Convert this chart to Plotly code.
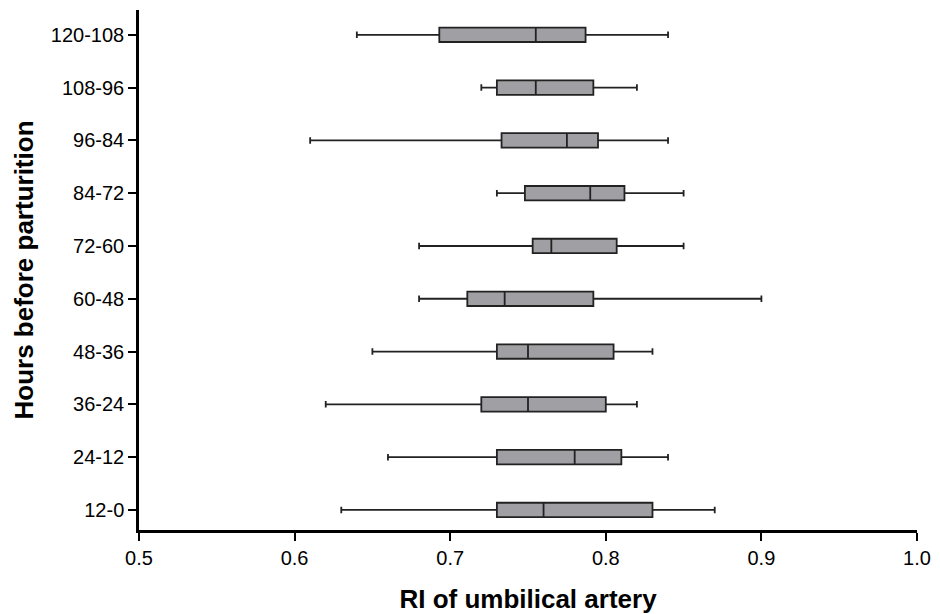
import plotly.graph_objects as go

categories = ["12-0", "24-12", "36-24", "48-36", "60-48", "72-60", "84-72", "96-84", "108-96", "120-108"]
lower_whisker = [0.630, 0.660, 0.620, 0.650, 0.680, 0.680, 0.730, 0.610, 0.720, 0.640]
q1_values = [0.730, 0.730, 0.720, 0.730, 0.711, 0.753, 0.748, 0.733, 0.730, 0.693]
median_values = [0.760, 0.780, 0.750, 0.750, 0.735, 0.765, 0.790, 0.775, 0.755, 0.755]
q3_values = [0.830, 0.810, 0.800, 0.805, 0.792, 0.807, 0.812, 0.795, 0.792, 0.787]
upper_whisker = [0.870, 0.840, 0.820, 0.830, 0.900, 0.850, 0.850, 0.840, 0.820, 0.840]
x_ticks = [0.5, 0.6, 0.7, 0.8, 0.9, 1.0]

fig = go.Figure()
fig.add_trace(go.Box(
    y=categories,
    q1=q1_values,
    median=median_values,
    q3=q3_values,
    lowerfence=lower_whisker,
    upperfence=upper_whisker,
    orientation="h",
    boxpoints=False,
    fillcolor="#a0a0a4",
    line=dict(color="#222222", width=1.8),
    whiskerwidth=0.45,
    showlegend=False,
    hoverinfo="skip",
))

font_family = "Liberation Sans, Arial, sans-serif"
fig.update_layout(
    width=940, height=614,
    margin=dict(l=139, r=23, t=10, b=84),
    plot_bgcolor="white", paper_bgcolor="white",
    boxgap=0.61,
    font=dict(family=font_family, size=20, color="black"),
    xaxis=dict(
        range=[0.5, 1.0],
        tickvals=x_ticks,
        ticktext=[f"{v:.1f}" for v in x_ticks],
        showgrid=False, zeroline=False,
        showline=True, linecolor="black", linewidth=2.5,
        ticks="outside", ticklen=8, tickwidth=2, tickcolor="black",
        tickfont=dict(size=20),
        automargin=False,
        title=dict(text="<b>RI of umbilical artery</b>", font=dict(size=26), standoff=24),
    ),
    yaxis=dict(
        type="category",
        categoryorder="array", categoryarray=categories,
        range=[-0.38, 9.47],
        showgrid=False, zeroline=False,
        showline=True, linecolor="black", linewidth=2.5,
        ticks="outside", ticklen=8, tickwidth=2, tickcolor="black",
        tickfont=dict(size=20),
        automargin=False,
        title=dict(text="<b>Hours before parturition</b>", font=dict(size=26), standoff=10),
    ),
)

fig.write_html("out.html", config={"displayModeBar": False},
               post_script="document.body.style.margin='0px';")
